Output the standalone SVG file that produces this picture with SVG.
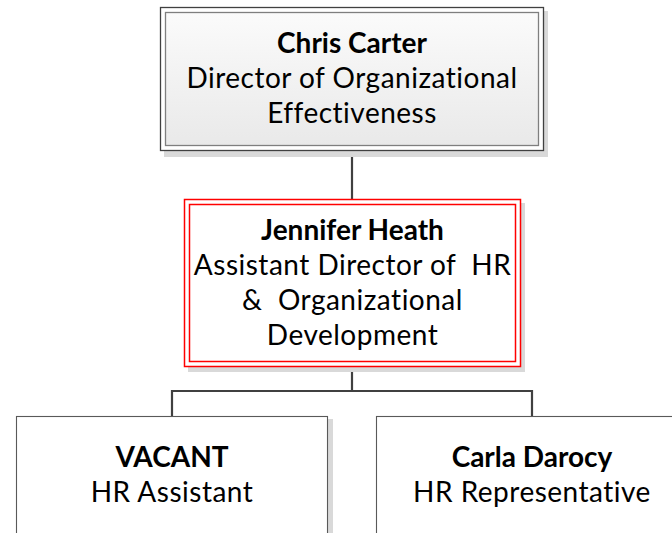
<svg xmlns="http://www.w3.org/2000/svg" width="672" height="533" viewBox="0 0 672 533">
  <defs>
    <linearGradient id="topFill" x1="0" y1="0" x2="0" y2="1">
      <stop offset="0" stop-color="#fbfbfb"/>
      <stop offset="1" stop-color="#e9e9e9"/>
    </linearGradient>
  </defs>
  <style>
    text { font-family: Lato, "Open Sans", "Liberation Sans", sans-serif; font-size: 28px; fill: #000; text-anchor: middle; white-space: pre; letter-spacing: 0.5px; }
    .name { font-weight: bold; letter-spacing: 0; }
    .shadow { fill: #d9d9d9; stroke: none; }
    .conn { fill: none; stroke: #404040; stroke-width: 2.2; }
    .outerTop { fill: #ffffff; stroke: #404040; stroke-width: 1.3; }
    .innerTop { fill: url(#topFill); stroke: #7f7f7f; stroke-width: 1.3; }
    .outerRed { fill: #ffffff; stroke: #ff0000; stroke-width: 1.5; }
    .innerRed { fill: none; stroke: #ff0000; stroke-width: 1.5; }
    .plain { fill: #ffffff; stroke: #595959; stroke-width: 1.1; }
  </style>

  <g id="connectors">
    <path class="conn" d="M352,151 V199"/>
    <path class="conn" d="M352,367 V391 M172,416 V391 H532 V416"/>
  </g>

  <g id="node-chris-carter">
    <rect class="shadow" x="164" y="11" width="384" height="146"/>
    <rect class="outerTop" x="160.5" y="7.5" width="383" height="143"/>
    <rect class="innerTop" x="165.5" y="12.5" width="373" height="133"/>
    <text class="name" x="352" y="53">Chris Carter</text>
    <text x="352" y="88">Director of Organizational</text>
    <text x="352" y="123">Effectiveness</text>
  </g>

  <g id="node-jennifer-heath">
    <rect class="shadow" x="188" y="203" width="337" height="169"/>
    <rect class="outerRed" x="184.5" y="199.5" width="336" height="167"/>
    <rect class="innerRed" x="189.5" y="204.5" width="326" height="157"/>
    <text class="name" x="352.5" y="240">Jennifer Heath</text>
    <text x="352.5" y="275">Assistant Director of  HR</text>
    <text x="352.5" y="310">&amp;  Organizational</text>
    <text x="352.5" y="345">Development</text>
  </g>

  <g id="node-vacant">
    <rect class="shadow" x="21" y="419" width="312" height="144"/>
    <rect class="plain" x="16.5" y="416.5" width="311" height="144"/>
    <text class="name" x="172" y="467">VACANT</text>
    <text x="172" y="502">HR Assistant</text>
  </g>

  <g id="node-carla-darocy">
    <rect class="shadow" x="381" y="419" width="312" height="144"/>
    <rect class="plain" x="376.5" y="416.5" width="311" height="144"/>
    <text class="name" x="532" y="467">Carla Darocy</text>
    <text x="532" y="502">HR Representative</text>
  </g>
</svg>
